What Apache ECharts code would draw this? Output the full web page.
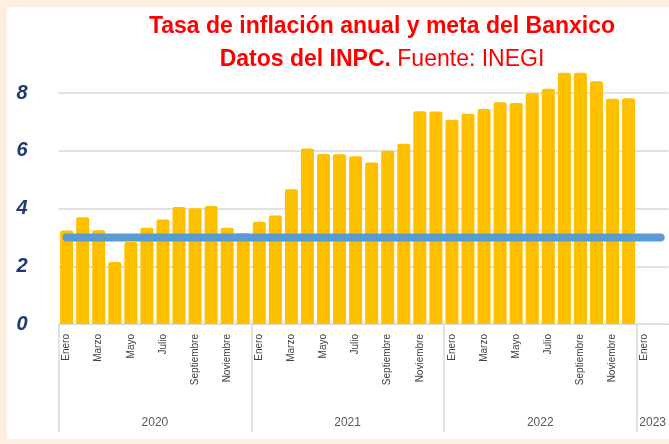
<!DOCTYPE html>
<html>
<head>
<meta charset="utf-8">
<script src="https://cdn.jsdelivr.net/npm/echarts@6/dist/echarts.min.js"></script>
<style>
  html, body { margin: 0; padding: 0; background: #fdf0e3; }
  #main { position: absolute; left: 7px; top: 7px; width: 662px; height: 432px; background: #ffffff; }
</style>
</head>
<body>
<div id="main"></div>
<script>
// meses (enero 2020 - febrero 2023)
var mesesNombre = ['Enero','Febrero','Marzo','Abril','Mayo','Junio','Julio','Agosto','Septiembre','Octubre','Noviembre','Diciembre'];
var meses = [];
for (var a = 0; a < 3; a++) meses = meses.concat(mesesNombre);
meses = meses.concat(['Enero', 'Febrero']);

// años y cuantos meses tiene cada grupo
var anios = ['2020', '2021', '2022', '2023'];
var mesesPorAnio = [12, 12, 12, 2];

// inflación anual (%)
var inflacion = [
    3.24, 3.70, 3.25, 2.15, 2.84, 3.33, 3.62, 4.05, 4.01, 4.09, 3.33, 3.15,
    3.54, 3.76, 4.67, 6.08, 5.89, 5.88, 5.81, 5.59, 6.00, 6.24, 7.37, 7.36,
    7.07, 7.28, 7.45, 7.68, 7.65, 7.99, 8.15, 8.70, 8.70, 8.41, 7.80, 7.82,
    null, null
];

// meta del Banxico (%)
var meta = [
    3, 3, 3, 3, 3, 3, 3, 3, 3, 3, 3, 3,
    3, 3, 3, 3, 3, 3, 3, 3, 3, 3, 3, 3,
    3, 3, 3, 3, 3, 3, 3, 3, 3, 3, 3, 3,
    3, 3
];

// ticks de y
var yTicks = [0, 2, 4, 6, 8];

// separadores y centros de cada año (en unidades de categoria)
// el ultimo grupo queda cortado en el borde, sin separador final
var limites = [0], centros = [];
var acum = 0;
for (var i = 0; i < mesesPorAnio.length; i++) {
    centros.push(acum + mesesPorAnio[i] / 2);
    acum += mesesPorAnio[i];
    if (i < mesesPorAnio.length - 1) limites.push(acum);
}

var chart = echarts.init(document.getElementById('main'));

var option = {
    animation: false,
    title: {
        text: '{b|Tasa de inflación anual y meta del Banxico}\n{b|Datos del INPC.}{r| Fuente: INEGI}',
        left: 370,
        top: -2,
        textAlign: 'center',
        textStyle: {
            lineHeight: 33,
            rich: {
                b: { fontFamily: 'Liberation Sans', fontWeight: 'bold', fontSize: 23, color: '#ff0000', lineHeight: 33 },
                r: { fontFamily: 'Liberation Sans', fontWeight: 'normal', fontSize: 23, color: '#ff0000', lineHeight: 33 }
            }
        }
    },
    grid: {
        left: 51.6,
        top: 86,
        width: 612,
        height: 231
    },
    xAxis: [{
        type: 'category',
        data: meses,
        axisLine: { lineStyle: { color: '#d9d9d9', width: 1 } },
        axisTick: { show: false },
        axisLabel: {
            interval: 1,
            rotate: 90,
            margin: 10,
            fontSize: 10,
            color: '#404040',
            fontFamily: 'Liberation Sans'
        }
    }, {
        // eje de años: separadores y etiquetas
        type: 'value',
        position: 'bottom',
        min: 0,
        max: meses.length,
        axisLine: { show: false },
        splitLine: { show: false },
        axisTick: {
            show: true,
            customValues: limites,
            length: 108,
            lineStyle: { color: '#d9d9d9', width: 1.5 }
        },
        axisLabel: {
            customValues: centros,
            margin: 93,
            fontSize: 12,
            color: '#595959',
            fontFamily: 'Liberation Sans',
            formatter: function (v) {
                var k = centros.indexOf(v);
                return k >= 0 ? anios[k] : '';
            }
        }
    }],
    yAxis: {
        type: 'value',
        min: yTicks[0],
        max: yTicks[yTicks.length - 1],
        interval: 2,
        axisLine: { show: false },
        axisTick: { show: false },
        splitLine: { lineStyle: { color: '#d9d9d9', width: 1.5 } },
        axisLabel: {
            margin: 31,
            fontSize: 20,
            fontWeight: 'bold',
            fontStyle: 'italic',
            color: '#1f3a6e',
            fontFamily: 'Liberation Sans'
        }
    },
    series: [{
        name: 'Inflación',
        type: 'bar',
        data: inflacion,
        barWidth: 13,
        clip: false,
        itemStyle: { color: '#ffc000', borderRadius: [2, 2, 0, 0] }
    }, {
        name: 'Meta',
        type: 'line',
        data: meta,
        symbol: 'none',
        clip: false,
        lineStyle: { color: '#5b9bd5', width: 8, cap: 'round' }
    }]
};

chart.setOption(option);
</script>
</body>
</html>
